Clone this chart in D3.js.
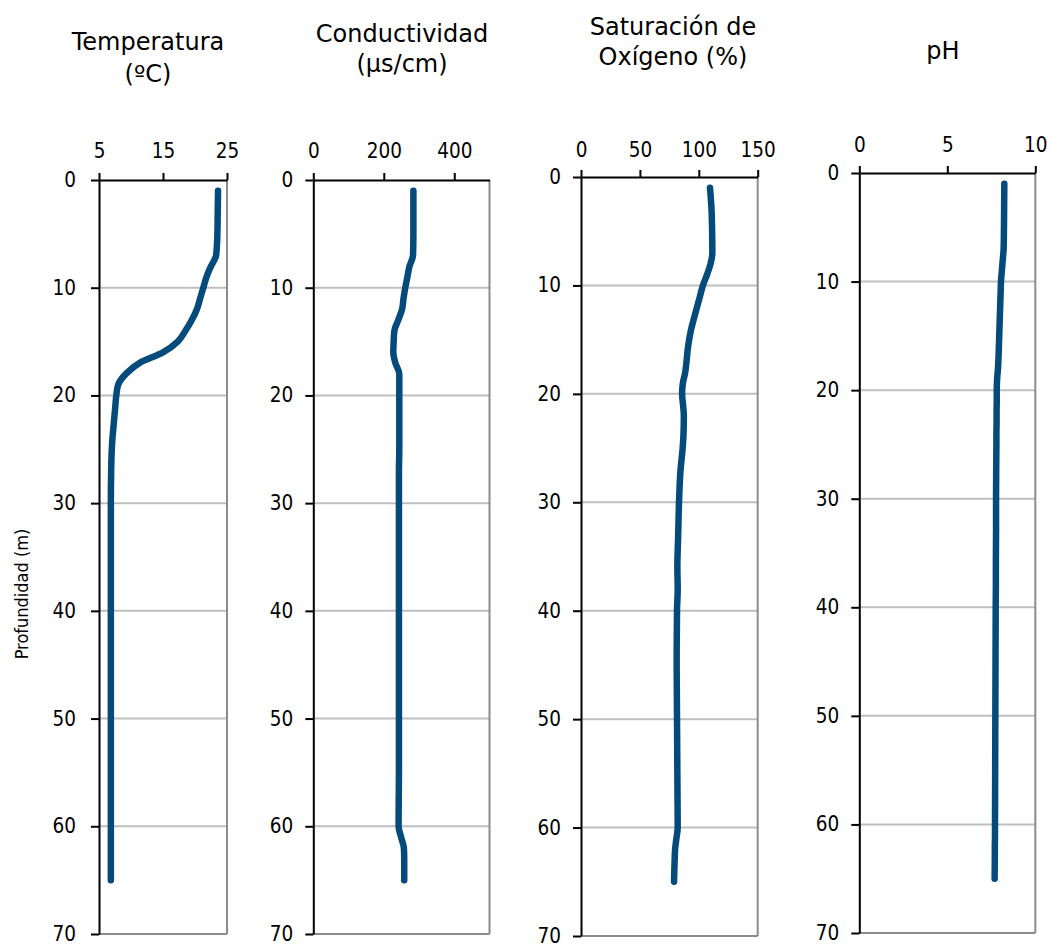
<!DOCTYPE html>
<html>
<head>
<meta charset="utf-8">
<script src="https://cdn.jsdelivr.net/npm/d3@7"></script>
<style>
  html, body { margin: 0; padding: 0; background: #fff; }
  svg { display: block; }
  text { font-family: "DejaVu Sans", sans-serif; fill: #000; }
  .cond { font-family: "DejaVu Sans Condensed", "DejaVu Sans", sans-serif; font-stretch: condensed; }
</style>
</head>
<body>
<svg id="chart" width="1052" height="947"></svg>
<script>
// Depth of each reading (m)
const depths = [1, 3, 5, 7, 8, 9, 10, 11, 12, 13, 14, 15, 16, 17, 18, 19, 20, 21, 22, 23, 24, 25,
                27, 30, 33, 36, 38, 40, 45, 50, 55, 60, 61, 62, 63, 65];

// Temperature (ºC)
const temperatura = [23.6, 23.55, 23.5, 23.3, 22.5, 21.8, 21.3, 20.8, 20.3, 19.5, 18.5, 17.3, 15.0, 11.3, 9.2, 8.0,
                     7.7, 7.55, 7.4, 7.25, 7.1, 7.0, 6.9, 6.85, 6.85, 6.85, 6.85, 6.85, 6.85, 6.85, 6.85, 6.85,
                     6.85, 6.85, 6.85, 6.85];

// Conductivity (µs/cm)
const conductividad = [284, 284, 284, 283, 273, 267, 261, 256, 252, 241, 230, 228, 227, 233, 244, 244,
                       244, 244, 244, 244, 244, 244, 243, 243, 243, 243, 243, 243, 243, 243, 243, 242,
                       249, 257, 258, 258];

// Dissolved oxygen saturation (%)
const oxigeno = [109.5, 110.8, 111.3, 111.5, 110, 107, 103.5, 101, 98.5, 96, 93.6, 91.8, 90.5, 89.6, 88.5, 86.5,
                 85.8, 86.6, 87.3, 87.2, 86.9, 86.3, 84.5, 83.2, 82.5, 81.8, 82.1, 81.5, 81.2, 81.5, 81.8, 82.1,
                 81, 79.9, 79.5, 79];

// pH
const ph = [8.24, 8.23, 8.22, 8.2, 8.15, 8.1, 8.05, 8.03, 8.01, 7.99, 7.97, 7.95, 7.93, 7.91, 7.88, 7.83,
            7.81, 7.81, 7.80, 7.80, 7.79, 7.79, 7.78, 7.77, 7.77, 7.76, 7.76, 7.75, 7.74, 7.73, 7.72, 7.71,
            7.71, 7.70, 7.70, 7.69];

// Panel titles and horizontal axis ticks
const titles = [["Temperatura", "(ºC)"], ["Conductividad", "(µs/cm)"], ["Saturación de", "Oxígeno (%)"], ["pH"]];
const xDomains = [[5, 25], [0, 500], [0, 150], [0, 10]];
const xTicks = [[5, 15, 25], [0, 200, 400], [0, 50, 100, 150], [0, 5, 10]];
const depthTicks = [0, 10, 20, 30, 40, 50, 60, 70];
const yLabel = "Profundidad (m)";

const series = [temperatura, conductividad, oxigeno, ph];

// Pixel frame of each panel
const layout = [
  { x0: 99,    x1: 227,    y0: 180, y1: 934, pad: 15, topPad: 15, titleX: 148, titleY: [50, 82] },
  { x0: 313.3, x1: 489.5,  y0: 180, y1: 934, pad: 12, topPad: 15, titleX: 402, titleY: [42, 72] },
  { x0: 581,   x1: 757.7,  y0: 177, y1: 936, pad: 12, topPad: 13, titleX: 673, titleY: [35, 65] },
  { x0: 859.3, x1: 1035.3, y0: 173, y1: 933, pad: 12, topPad: 14, titleX: 943, titleY: [59] }
];

const svg = d3.select("#chart");
const lineColor = "#044a7b";

series.forEach((values, i) => {
  const L = layout[i];
  const x = d3.scaleLinear().domain(xDomains[i]).range([L.x0, L.x1]);
  const y = d3.scaleLinear().domain([0, 70]).range([L.y0, L.y1]);
  const g = svg.append("g");

  // horizontal gridlines and bottom edge
  g.selectAll("line.grid")
    .data(depthTicks.filter(d => d > 0))
    .join("line")
    .attr("class", "grid")
    .attr("x1", L.x0).attr("x2", L.x1)
    .attr("y1", d => y(d)).attr("y2", d => y(d))
    .attr("stroke", d => d === 70 ? "#8c8c8c" : "#bfbfbf")
    .attr("stroke-width", 2);

  // right edge of the plot area
  g.append("line")
    .attr("x1", L.x1).attr("x2", L.x1)
    .attr("y1", L.y0).attr("y2", L.y1)
    .attr("stroke", "#8c8c8c").attr("stroke-width", 2);

  // depth axis
  const yAxis = g.append("g")
    .attr("transform", `translate(${L.x0},0)`)
    .call(d3.axisLeft(y).tickValues(depthTicks).tickSize(8).tickSizeOuter(0).tickPadding(L.pad));
  yAxis.select(".domain").attr("stroke", "#000").attr("stroke-width", 2);
  yAxis.selectAll(".tick line").attr("stroke", "#000").attr("stroke-width", 2);
  yAxis.selectAll(".tick text").attr("class", "cond").style("font-size", "20.5px").attr("font-family", null);

  // variable axis along the top
  const xAxis = g.append("g")
    .attr("transform", `translate(0,${L.y0})`)
    .call(d3.axisTop(x).tickValues(xTicks[i]).tickSize(7).tickSizeOuter(0).tickPadding(L.topPad));
  xAxis.select(".domain").attr("stroke", "#000").attr("stroke-width", 2);
  xAxis.selectAll(".tick line").attr("stroke", "#000").attr("stroke-width", 2);
  xAxis.selectAll(".tick text").attr("class", "cond").style("font-size", "20.5px").attr("font-family", null);

  // profile line
  const line = d3.line()
    .x(d => x(d))
    .y((d, j) => y(depths[j]))
    .curve(d3.curveMonotoneY);
  g.append("path")
    .datum(values)
    .attr("d", line)
    .attr("fill", "none")
    .attr("stroke", lineColor)
    .attr("stroke-width", 6.5)
    .attr("stroke-linecap", "round")
    .attr("stroke-linejoin", "round");

  // title
  g.selectAll("text.title")
    .data(titles[i])
    .join("text")
    .attr("class", "title")
    .attr("x", L.titleX)
    .attr("y", (d, k) => L.titleY[k])
    .attr("text-anchor", "middle")
    .style("font-size", "24px")
    .text(d => d);
});

// shared depth label
svg.append("text")
  .attr("class", "cond")
  .attr("transform", "translate(28,594) rotate(-90)")
  .attr("text-anchor", "middle")
  .style("font-size", "18px")
  .text(yLabel);
</script>
</body>
</html>
